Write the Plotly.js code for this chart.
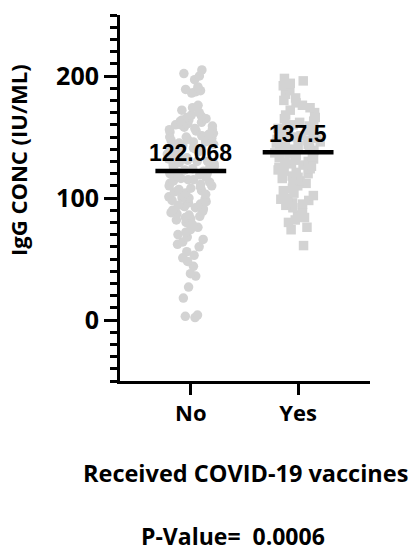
<!DOCTYPE html>
<html>
<head>
<meta charset="utf-8">
<script src="https://cdn.plot.ly/plotly-3.0.1.min.js"></script>
<style>html,body{margin:0;padding:0;background:#fff;}#chart{width:409px;height:552px;}</style>
</head>
<body>
<div id="chart"></div>
<script>
// ---- data ----
const categories = ['No', 'Yes'];
const noValues = [205, 202, 200, 197, 191, 189, 188, 187, 186, 176, 174, 172, 170, 168, 167, 166, 165, 164, 164, 163,
  162, 161, 160, 160, 159, 158, 157, 156, 156, 155, 154, 153, 152, 151, 150, 150, 149, 148, 147, 146,
  146, 145, 144, 143, 142, 141, 140, 140, 139, 138, 137, 136, 135, 135, 134, 133, 132, 131, 130, 130,
  129, 128, 127, 126, 125, 125, 124, 123, 122, 121, 120, 120, 119, 118, 117, 116, 115, 115, 114, 113,
  112, 111, 110, 110, 109, 108, 107, 106, 105, 104, 103, 102, 101, 100, 100, 99, 98, 97, 96, 95,
  94, 93, 92, 91, 90, 89, 88, 87, 86, 85, 84, 83, 82, 80, 78, 76, 74, 72, 70, 68,
  66, 64, 62, 60, 56, 53, 51, 48, 44, 38, 36, 27, 18, 4, 3, 2];
const yesValues = [198, 196, 194, 192, 190, 188, 185, 182, 180, 178, 176, 174, 172, 170, 168, 166, 165, 163, 162, 160,
  159, 158, 157, 156, 155, 154, 153, 152, 151, 150, 150, 149, 148, 147, 146, 145, 144, 143, 142, 141,
  140, 140, 139, 138, 137, 136, 135, 134, 133, 132, 131, 130, 129, 128, 127, 126, 125, 124, 123, 122,
  121, 120, 118, 117, 116, 115, 114, 112, 110, 108, 106, 104, 102, 100, 99, 98, 96, 95, 94, 92,
  88, 86, 84, 82, 80, 76, 74, 61];
const groupValues = [noValues, yesValues];
const symbols = ['circle', 'square'];
const meanValues = [122.068, 137.5];
const meanLabels = ['122.068', '137.5'];
const yTickVals = [0, 100, 200];
const xTitle = 'Received COVID-19 vaccines';
const yTitle = 'IgG CONC (IU/ML)';
const pText = 'P-Value=  0.0006';

// ---- chart ----
const FONT = 'Open Sans, sans-serif';
const halfLine = 0.33;
const traces = [];
groupValues.forEach((vals, i) => {
  traces.push({
    type: 'box', y: vals, x0: i, name: categories[i],
    boxpoints: 'all', jitter: 0.9, pointpos: 0,
    fillcolor: 'rgba(0,0,0,0)', line: {width: 0, color: 'rgba(0,0,0,0)'},
    whiskerwidth: 0,
    marker: {symbol: symbols[i], size: 9.5, color: '#d3d3d3', line: {width: 0}},
    hoverinfo: 'y', showlegend: false
  });
});
meanValues.forEach((m, i) => {
  traces.push({
    type: 'scatter', mode: 'lines', x: [i - halfLine, i + halfLine], y: [m, m],
    line: {color: '#000', width: 4.5}, hoverinfo: 'skip', showlegend: false
  });
});
const annotations = meanValues.map((m, i) => ({
  x: i, y: m, xref: 'x', yref: 'y', text: '<b>' + meanLabels[i] + '</b>', showarrow: false,
  yanchor: 'bottom', yshift: 3,
  font: {family: 'Liberation Sans, Arial, sans-serif', size: 23, color: '#000'}
}));
annotations.push({
  x: 0.5, y: -0.25, xref: 'paper', yref: 'paper', text: '<b>' + xTitle + '</b>', showarrow: false,
  yanchor: 'middle',
  font: {family: FONT, size: 23.5, color: '#000'}
});
annotations.push({
  x: 0.452, y: -0.423, xref: 'paper', yref: 'paper', text: '<b>' + pText + '</b>', showarrow: false,
  yanchor: 'middle',
  font: {family: FONT, size: 23, color: '#000'}
});
annotations.push({
  x: (18 - 120) / 250, y: 0.604, xref: 'paper', yref: 'paper', text: '<b>' + yTitle + '</b>', showarrow: false,
  textangle: -90, xanchor: 'center', yanchor: 'middle',
  font: {family: FONT, size: 22, color: '#000'}
});

const layout = {
  width: 409, height: 552,
  margin: {l: 120, r: 39, t: 15, b: 171},
  paper_bgcolor: '#fff', plot_bgcolor: '#fff',
  font: {family: FONT, color: '#000'},
  showlegend: false,
  xaxis: {
    range: [-0.66, 1.67], tickvals: [0, 1], ticktext: categories.map(c => '<b>' + c + '</b>'),
    showgrid: false, zeroline: false, showline: true, linewidth: 3, linecolor: '#000',
    ticks: 'outside', ticklen: 11, tickwidth: 3, tickcolor: '#000',
    tickfont: {family: FONT, size: 22, color: '#000'}
  },
  yaxis: {
    range: [-50, 250], tickvals: yTickVals, ticktext: yTickVals.map(v => '<b>' + v + '</b>'),
    showgrid: false, zeroline: false, showline: true, linewidth: 3, linecolor: '#000',
    ticks: 'outside', ticklen: 13, tickwidth: 3, tickcolor: '#000',
    tickfont: {family: FONT, size: 25, color: '#000'},
    minor: {dtick: 10, tick0: 0, ticks: 'outside', ticklen: 7, tickwidth: 3, tickcolor: '#000', showgrid: false}
  },
  annotations: annotations
};
Plotly.newPlot('chart', traces, layout, {displayModeBar: false, staticPlot: true});
</script>
</body>
</html>
